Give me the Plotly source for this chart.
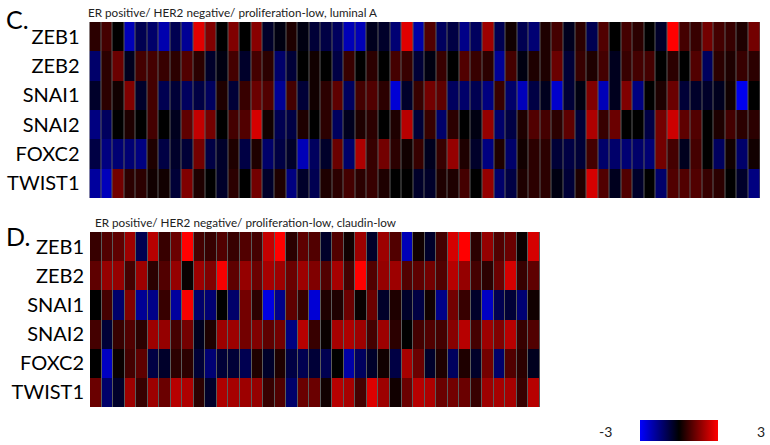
import plotly.graph_objects as go

genes = ["ZEB1", "ZEB2", "SNAI1", "SNAI2", "FOXC2", "TWIST1"]

# panel C: luminal A samples (58 columns)
lumA_zeb1 = [0.5, 0.8, 0.0, -2.15, -0.95, -1.25, -2.05, -0.95, -1.75, 2.65, 1.5, 0.0, 1.5, 0.0, 1.6, -0.5, -0.2, 0.35, -0.2, -0.65,
             -0.8, -1.1, -2.15, -2.15, -0.35, -0.5, -1.35, 2.65, -1.95, 0.95, -1.1, -0.8, -1.6, -1.1, 1.85, -0.95, 0.2, -0.95, -1.35, 0.35,
             0.8, -0.35, 0.5, -0.95, 0.95, 0.0, 0.8, 0.5, 0.0, -0.5, 3.0, 0.8, 0.65, 1.35, 0.8, 0.65, 0.35, 1.35]
lumA_zeb2 = [-1.25, 0.5, 1.25, -0.35, 0.8, 0.8, 0.65, 0.5, 0.95, 0.5, -0.5, -0.2, 0.8, -0.5, 0.8, 0.5, -1.25, -0.65, 0.0, 0.2,
             0.0, -0.8, 0.65, 0.0, 0.5, 0.0, 0.8, 0.65, -0.65, -0.2, 0.65, 0.0, 0.95, 0.65, 0.5, -1.75, 0.8, -0.2, 0.35, 0.35,
             1.25, -0.65, 0.65, 0.35, 0.8, -0.35, 0.65, 0.8, 0.8, 0.0, 0.5, 0.0, 0.95, -1.1, 0.5, 0.35, 0.65, 0.5]
lumA_snai1 = [-0.5, 0.5, 0.2, 1.5, -0.5, 0.8, -0.95, -0.65, -1.1, -0.8, -1.1, 0.35, -0.65, 0.65, 1.25, 0.95, -1.75, 0.8, -0.65, 0.2,
              0.5, 1.1, -1.1, 0.8, 0.95, 0.5, -2.5, -0.5, 0.65, 1.35, 1.1, -1.1, -1.25, -0.95, -1.5, 0.65, -1.25, -2.2, -0.8, -0.35,
              -2.4, -0.65, -0.2, 1.5, -2.15, -0.35, 1.5, -1.5, 0.0, 0.35, 1.25, -0.65, -0.5, -0.5, -0.35, 0.2, -2.8, 0.0]
lumA_snai2 = [-1.5, -1.1, 0.0, 0.35, 0.0, 0.8, 0.0, -0.35, 1.1, 2.3, 1.35, 0.0, 0.8, 0.95, 2.5, 0.2, -0.95, -0.8, 0.35, 0.0,
              0.5, -1.1, -0.35, 0.35, 0.5, 0.0, 0.35, 2.15, -0.65, 0.65, -1.25, 0.5, 0.0, -0.2, 1.75, -1.25, -0.8, 0.35, 0.95, 0.8,
              0.5, 1.1, -0.65, 2.05, 0.65, 1.25, 0.0, 0.0, -0.8, 1.35, 2.4, 1.1, 0.95, 0.0, 0.35, 0.8, 0.5, 0.5]
lumA_foxc2 = [-0.8, -1.5, -1.35, -1.35, -1.5, 0.35, -0.8, -0.5, -0.65, 1.35, -0.8, -0.5, 0.35, -0.8, 0.35, -1.25, -0.8, -0.5, -2.15, -1.1,
              -0.5, 1.25, -1.25, 2.05, 0.65, 1.35, 0.5, 0.2, 0.65, -0.35, 0.65, 1.75, 0.35, -0.5, -1.5, 0.35, -1.25, 0.2, 0.5, 0.5,
              -0.65, -0.8, -0.65, 0.8, -1.25, -1.25, -1.35, -1.25, -1.35, 1.35, 0.8, -0.35, 0.8, 0.0, -1.1, 0.2, -1.25, 0.2]
lumA_twist1 = [-1.85, -2.2, 1.35, 0.5, 0.5, 0.2, 0.2, -0.65, 1.5, 0.35, 0.0, -0.5, 0.5, 0.0, 1.35, -0.5, 0.35, -1.5, -0.5, -0.95,
               0.35, 0.5, 0.8, 0.5, 0.65, 0.35, 0.0, 0.0, -0.5, -0.5, 0.35, 0.35, 0.8, 0.0, 1.75, -1.25, -0.8, 0.35, 0.5, 0.5,
               -0.2, -0.65, 0.35, 2.5, 0.95, -0.35, 0.95, -0.5, 0.0, -1.25, 0.95, 0.95, 0.95, 0.65, 0.5, 0.0, -0.5, -1.5]

# panel D: claudin-low samples (39 columns)
cl_zeb1 = [0.65, 0.95, 1.1, 1.85, -0.95, 2.15, 0.65, 1.25, 3.0, 0.8, 0.65, 0.95, 0.65, 0.95, 0.8, 2.3, 3.0, 0.5, 1.1, 0.95,
           -0.5, 0.95, 0.2, 1.85, -0.5, 1.85, 0.95, -2.15, 0.2, -0.5, 0.8, 2.5, 3.0, 0.5, 1.75, 0.95, 1.25, 0.1, 2.5]
cl_zeb2 = [1.1, 1.75, 1.75, 0.8, 1.85, 0.5, 0.95, 1.75, 0.1, 1.85, 1.5, 2.9, 1.1, 1.75, 1.25, 1.95, 1.85, 1.25, 1.85, 1.5,
           0.95, 1.95, 0.8, 3.0, 0.95, 1.75, 1.85, 0.95, 1.1, 1.35, 0.95, 2.15, 1.75, 0.8, 0.5, 1.25, 2.5, 0.65, 1.1]
cl_snai1 = [0.0, 0.8, -1.25, 1.5, -1.75, -1.6, 0.65, -1.85, 2.9, -1.25, -1.35, 0.0, -1.25, 1.35, 0.5, -2.65, -1.6, 1.1, 0.65, -2.5,
            0.35, 0.35, 1.25, 0.1, 1.25, -0.5, 0.35, -0.5, -0.8, 0.2, -1.6, 1.35, 0.65, -0.5, -2.3, -0.95, -0.65, -1.35, 0.2]
cl_snai2 = [0.8, -0.65, 0.65, 0.95, 0.5, 1.85, 1.75, 0.8, 1.35, -0.35, 0.35, 1.85, 1.85, 1.35, 1.5, 1.1, 1.35, -1.5, 2.15, 0.65,
            0.1, 1.95, 2.05, 1.85, 0.8, 1.85, 0.5, 0.0, 0.8, 0.95, 0.8, 1.6, 2.15, 0.8, 1.85, 1.5, 2.15, 0.65, 0.95]
cl_foxc2 = [0.0, -2.3, 0.1, 0.8, 1.1, -0.8, -0.5, 0.5, 0.5, -0.65, -1.35, -0.65, -0.65, -0.95, 0.35, -0.5, 0.35, -0.8, -0.95, -0.65,
            -0.95, 0.0, -1.95, -1.1, -0.5, 0.2, -0.8, 1.95, 1.25, -0.5, 0.35, -1.1, 0.35, -0.5, 1.35, -1.25, 0.95, 0.5, -0.35]
cl_twist1 = [1.25, -1.25, -0.5, 1.85, 0.65, 1.85, 1.25, 2.15, 2.05, 0.5, -0.5, 2.05, 1.95, 1.85, 1.75, 0.65, 0.95, -1.25, 1.25, 1.25,
             0.2, 2.15, 1.95, 0.8, 2.6, 1.85, 0.2, 1.25, 2.15, 2.05, 1.25, 1.35, 1.25, 0.65, 1.85, 1.95, 1.95, 0.65, 2.15]

lumA = [lumA_zeb1, lumA_zeb2, lumA_snai1, lumA_snai2, lumA_foxc2, lumA_twist1]
claudin = [cl_zeb1, cl_zeb2, cl_snai1, cl_snai2, cl_foxc2, cl_twist1]

W, H = 770, 445
scale = [[0, "rgb(0,0,255)"], [0.5, "rgb(0,0,0)"], [1, "rgb(255,0,0)"]]
label_font = dict(family="Lato, Open Sans, sans-serif", size=20, color="black")

fig = go.Figure()

fig.add_trace(go.Heatmap(
    z=lumA, y=genes, x=list(range(len(lumA_zeb1))),
    colorscale=scale, zmin=-3, zmax=3, xgap=1,
    xaxis="x", yaxis="y", showscale=False, hoverinfo="skip"
))

fig.add_trace(go.Heatmap(
    z=claudin, y=genes, x=list(range(len(cl_zeb1))),
    colorscale=scale, zmin=-3, zmax=3, xgap=1,
    xaxis="x2", yaxis="y2", hoverinfo="skip",
    colorbar=dict(
        orientation="h", thickness=21, thicknessmode="pixels",
        len=78, lenmode="pixels", xpad=0, ypad=0,
        x=679 / W, xanchor="center", y=(H - 441) / H, yanchor="bottom",
        outlinewidth=0, showticklabels=False, ticks=""
    )
))

axis_common = dict(showgrid=False, zeroline=False, showline=False)

fig.update_layout(
    width=W, height=H,
    margin=dict(l=0, r=0, t=0, b=0),
    paper_bgcolor="white",
    plot_bgcolor="#5a5a5a",
    xaxis=dict(domain=[89.5 / W, 760 / W], showticklabels=False, anchor="y", **axis_common),
    yaxis=dict(domain=[1 - 198 / H, 1 - 22 / H], autorange="reversed", anchor="x",
               ticks="outside", ticklen=5, tickcolor="rgba(0,0,0,0)",
               tickfont=label_font, **axis_common),
    xaxis2=dict(domain=[90 / W, 540 / W], showticklabels=False, anchor="y2", **axis_common),
    yaxis2=dict(domain=[1 - 407 / H, 1 - 232 / H], autorange="reversed", anchor="x2",
                ticks="outside", ticklen=1, tickcolor="rgba(0,0,0,0)",
                tickfont=label_font, **axis_common),
)

small = dict(family="Lato, Open Sans, sans-serif", size=11.7, color="#222")
big = dict(family="Lato, Open Sans, sans-serif", size=25, color="black")
num = dict(family="Lato, Open Sans, sans-serif", size=14, color="#222")

fig.add_annotation(text="C.", x=4 / W, y=1 - 2 / H, xref="paper", yref="paper",
                   xanchor="left", yanchor="top", showarrow=False, font=big)
fig.add_annotation(text="ER positive/ HER2 negative/ proliferation-low, luminal A",
                   x=86 / W, y=1 - 3 / H, xref="paper", yref="paper",
                   xanchor="left", yanchor="top", showarrow=False, font=small)
fig.add_annotation(text="D.", x=4 / W, y=1 - 219 / H, xref="paper", yref="paper",
                   xanchor="left", yanchor="top", showarrow=False, font=big)
fig.add_annotation(text="ER positive/ HER2 negative/ proliferation-low, claudin-low",
                   x=93 / W, y=1 - 213 / H, xref="paper", yref="paper",
                   xanchor="left", yanchor="top", showarrow=False, font=small)
fig.add_annotation(text="-3", x=605 / W, y=1 - 431 / H, xref="paper", yref="paper",
                   xanchor="center", yanchor="middle", showarrow=False, font=num)
fig.add_annotation(text="3", x=761 / W, y=1 - 431 / H, xref="paper", yref="paper",
                   xanchor="center", yanchor="middle", showarrow=False, font=num)

# the page body has a default 8px margin; drop it so the figure sits at 0,0
fig.write_html("out.html", config={"displayModeBar": False},
               post_script="document.body.style.margin='0';")
